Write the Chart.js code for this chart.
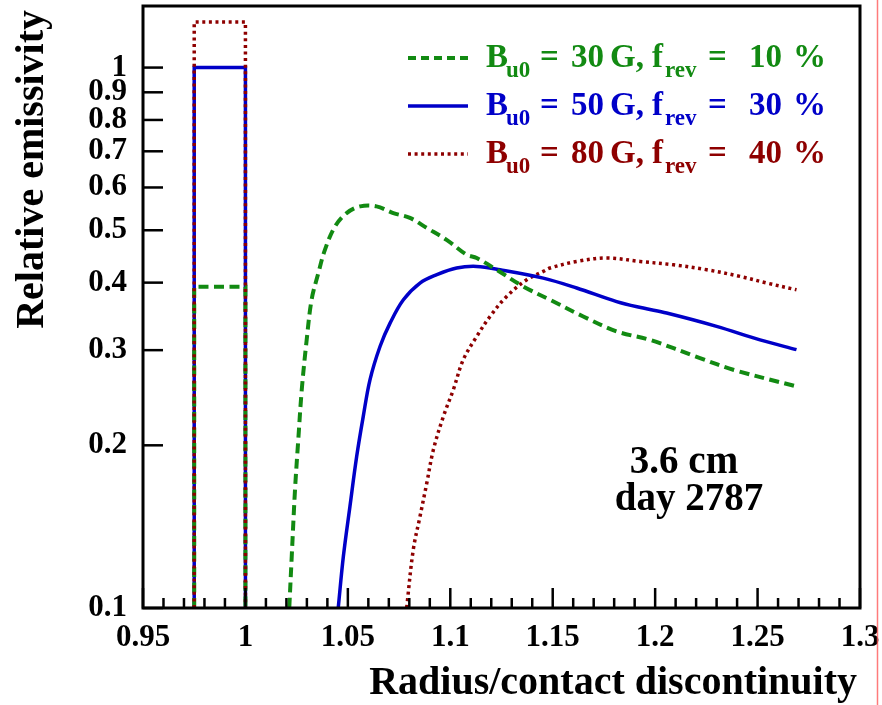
<!DOCTYPE html>
<html><head><meta charset="utf-8">
<script src="https://cdn.jsdelivr.net/npm/chart.js@4.4.1/dist/chart.umd.min.js"></script>
<style>html,body{margin:0;padding:0;background:#fff;overflow:hidden}canvas{display:block}</style>
</head><body>
<canvas id="c" width="882" height="705"></canvas>
<script>
// ---- data ----
const boxX = [0.975, 0.975, 1.0, 1.0];
const greenBoxY = [0.1, 0.393, 0.393, 0.1];
const blueBoxY = [0.1, 1.0, 1.0, 0.1];
const redBoxY = [0.1, 1.214, 1.214, 0.1];

const greenX = [1.0214, 1.0226, 1.0242, 1.0258, 1.0275, 1.0299, 1.0323, 1.0356, 1.0388, 1.0437, 1.0494, 1.056, 1.064, 1.0722, 1.0803, 1.0885, 1.0982, 1.108, 1.1129, 1.1226, 1.1356, 1.1487, 1.1649, 1.1812, 1.1975, 1.2219, 1.2381, 1.269];
const greenY = [0.1, 0.1245, 0.1654, 0.2048, 0.2535, 0.3134, 0.3718, 0.4168, 0.460, 0.508, 0.538, 0.5536, 0.5536, 0.538, 0.527, 0.505, 0.480, 0.4505, 0.4443, 0.4226, 0.3936, 0.3718, 0.3463, 0.325, 0.3134, 0.290, 0.276, 0.257];

const blueX = [1.0453, 1.0478, 1.051, 1.0543, 1.0575, 1.0608, 1.0657, 1.0706, 1.0771, 1.0852, 1.0934, 1.1031, 1.1129, 1.1243, 1.1454, 1.1617, 1.1812, 1.1942, 1.2056, 1.23, 1.2512, 1.269];
const blueY = [0.1, 0.1245, 0.154, 0.1906, 0.226, 0.2644, 0.3047, 0.3366, 0.3718, 0.3993, 0.4137, 0.4257, 0.4286, 0.4226, 0.4078, 0.391, 0.369, 0.3589, 0.3514, 0.332, 0.3134, 0.3006];

const redX = [1.0787, 1.0819, 1.0852, 1.0885, 1.0917, 1.0966, 1.1015, 1.1063, 1.1129, 1.1194, 1.1275, 1.1373, 1.1454, 1.1487, 1.1617, 1.1764, 1.1926, 1.2089, 1.2252, 1.2414, 1.2545, 1.269];
const redY = [0.1, 0.128, 0.1476, 0.170, 0.196, 0.226, 0.2535, 0.2879, 0.318, 0.3463, 0.377, 0.405, 0.4196, 0.4257, 0.4378, 0.4443, 0.4378, 0.4316, 0.4226, 0.4108, 0.3993, 0.388];

const xTickValues = [0.95, 1.0, 1.05, 1.1, 1.15, 1.2, 1.25, 1.3];
const yTickValues = [0.1, 0.2, 0.3, 0.4, 0.5, 0.6, 0.7, 0.8, 0.9, 1.0];
const yTickLabels = ['0.1', '0.2', '0.3', '0.4', '0.5', '0.6', '0.7', '0.8', '0.9', '1'];
const xTickLabels = ['0.95', '1', '1.05', '1.1', '1.15', '1.2', '1.25', '1.3'];

const seriesB = ['30', '50', '80'];
const seriesF = ['10', '30', '40'];
const xTitle = 'Radius/contact discontinuity';
const yTitle = 'Relative emissivity';
const noteLines = ['3.6 cm', 'day 2787'];

// ---- styles ----
const GREEN = '#128a12', BLUE = '#0000c8', RED = '#8e0000';
const styles = [
  {color: GREEN, dash: [10, 5.5], width: 4},
  {color: BLUE, dash: [], width: 3.5},
  {color: RED, dash: [3, 3.6], width: 3.5}
];
const SERIF = "'Liberation Serif', 'Times New Roman', serif";

const zip = (xs, ys) => xs.map((x, i) => ({x, y: ys[i]}));
function ds(xs, ys, st, tension) {
  return {data: zip(xs, ys), borderColor: st.color, borderDash: st.dash, borderWidth: st.width,
    pointRadius: 0, tension: tension, fill: false, borderCapStyle: 'butt', borderJoinStyle: 'miter'};
}
const datasets = [
  ds(greenX, greenY, styles[0], 0.35),
  ds(blueX, blueY, styles[1], 0.35),
  ds(redX, redY, styles[2], 0.35),
  ds(boxX, redBoxY, styles[2], 0),
  ds(boxX, greenBoxY, styles[0], 0),
  ds(boxX, blueBoxY, styles[1], 0)
];

const deco = {
  id: 'deco',
  afterDraw(chart) {
    const {ctx, chartArea: a, scales: {x, y}} = chart;
    ctx.save();
    const line = (x1, y1, x2, y2) => { ctx.beginPath(); ctx.moveTo(x1, y1); ctx.lineTo(x2, y2); ctx.stroke(); };
    ctx.strokeStyle = '#000';
    ctx.lineWidth = 2.5;
    yTickValues.forEach(v => { const p = y.getPixelForValue(v); line(a.left, p, a.left + 20, p); });
    for (let i = 0; i <= 35; i++) {
      const v = 0.95 + i * 0.01;
      const p = x.getPixelForValue(v);
      line(p, a.bottom, p, a.bottom - (i % 5 === 0 ? 20 : 10));
    }
    ctx.lineWidth = 3;
    ctx.strokeRect(a.left, a.top, a.right - a.left, a.bottom - a.top);

    // axis titles
    ctx.fillStyle = '#000';
    ctx.font = 'bold 40px ' + SERIF;
    ctx.textBaseline = 'alphabetic';
    ctx.textAlign = 'right';
    ctx.fillText(xTitle, 857, 694);
    ctx.save();
    ctx.translate(43, 10);
    ctx.rotate(-Math.PI / 2);
    ctx.fillText(yTitle, 0, 0);
    ctx.restore();

    // note
    ctx.font = 'bold 39px ' + SERIF;
    ctx.textAlign = 'center';
    ctx.fillText(noteLines[0], 684, 473);
    ctx.fillText(noteLines[1], 689, 510);

    // legend
    ctx.textAlign = 'left';
    for (let i = 0; i < 3; i++) {
      const base = 67 + i * 48;
      const st = styles[i];
      ctx.strokeStyle = st.color;
      ctx.lineWidth = st.width;
      ctx.setLineDash(i === 0 ? [8, 5] : st.dash);
      ctx.lineCap = 'butt';
      line(408, base - 9, 468, base - 9);
      ctx.setLineDash([]);
      ctx.fillStyle = st.color;
      const main = 'bold 33px ' + SERIF, sub = 'bold 23px ' + SERIF;
      ctx.font = main; ctx.fillText('B', 486, base);
      ctx.font = sub; ctx.fillText('u0', 506, base + 10);
      ctx.font = main;
      ctx.fillText('=', 540, base);
      ctx.fillText(seriesB[i], 571, base);
      ctx.fillText('G,', 610, base);
      ctx.fillText('f', 652, base);
      ctx.font = sub; ctx.fillText('rev', 665, base + 10);
      ctx.font = main;
      ctx.fillText('=', 708, base);
      ctx.fillText(seriesF[i], 749, base);
      ctx.fillText('%', 793, base);
    }

    // thin red border line on the right
    ctx.strokeStyle = 'rgba(255,90,90,0.8)';
    ctx.lineWidth = 1.5;
    line(877.5, 0, 877.5, 705);
    ctx.restore();
  }
};

new Chart(document.getElementById('c'), {
  type: 'scatter',
  data: {datasets},
  options: {
    responsive: false, animation: false, devicePixelRatio: 1,
    showLine: true,
    layout: {padding: {left: 0, right: 22, top: 6, bottom: 0}},
    plugins: {legend: {display: false}, tooltip: {enabled: false}},
    elements: {line: {borderCapStyle: 'butt'}},
    scales: {
      x: {
        type: 'linear', min: 0.95, max: 1.3,
        afterBuildTicks: s => { s.ticks = xTickValues.map(v => ({value: v})); },
        afterFit: s => { s.height = 97; s.paddingLeft = 0; s.paddingRight = 0; },
        grid: {display: false, drawTicks: false}, border: {display: false},
        ticks: {padding: 11, color: '#000', font: {family: SERIF, weight: 'bold', size: 31}, maxRotation: 0, autoSkip: false,
          callback: (v) => { const i = xTickValues.findIndex(t => Math.abs(t - v) < 1e-6); return i >= 0 ? xTickLabels[i] : ''; }}
      },
      y: {
        type: 'logarithmic', min: 0.1, max: 1.3,
        afterBuildTicks: s => { s.ticks = yTickValues.map(v => ({value: v})); },
        afterFit: s => { s.width = 143; s.paddingTop = 0; s.paddingBottom = 0; },
        grid: {display: false, drawTicks: false}, border: {display: false},
        ticks: {padding: 16, color: '#000', font: {family: SERIF, weight: 'bold', size: 31}, autoSkip: false,
          callback: (v) => { const i = yTickValues.findIndex(t => Math.abs(t - v) < 1e-6); return i >= 0 ? yTickLabels[i] : ''; }}
      }
    }
  },
  plugins: [deco]
});
</script>
</body></html>
